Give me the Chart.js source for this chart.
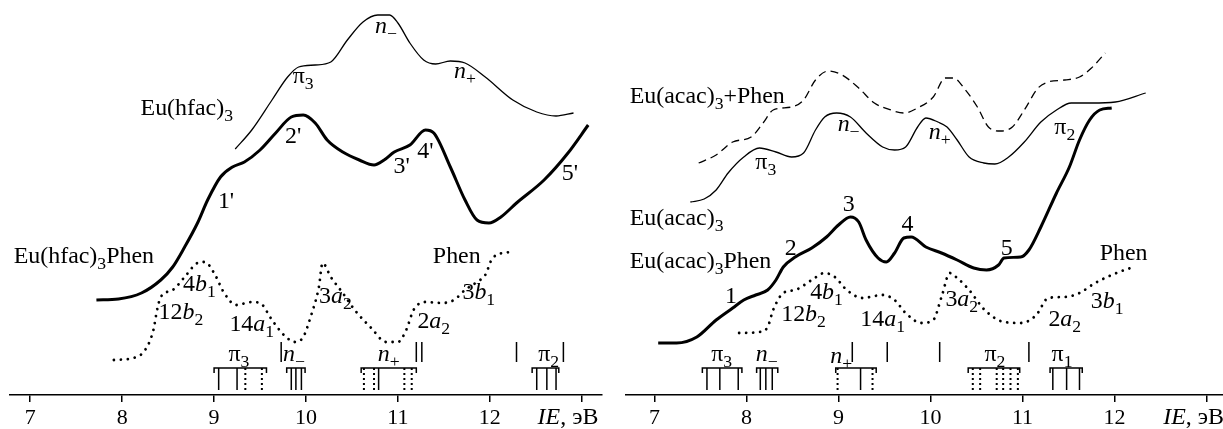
<!DOCTYPE html>
<html><head><meta charset="utf-8">
<script src="https://cdn.jsdelivr.net/npm/chart.js@4.4.0/dist/chart.umd.min.js"></script>
<style>
html,body{margin:0;padding:0;background:#fff;}
#wrap{position:relative;width:1223px;height:429px;overflow:hidden;background:#fff;}
canvas{position:absolute;top:0;}
</style></head><body>
<div id="wrap">
<canvas id="left" width="612" height="429" style="left:0"></canvas>
<canvas id="right" width="611" height="429" style="left:612px"></canvas>
</div>
<script>
// ---------- axis ----------
const tickValues = [7, 8, 9, 10, 11, 12, 13];
const tickLabels = ['7', '8', '9', '10', '11', '12', ''];

// ---------- left panel: Eu(hfac)3 ----------
const hfac = [[9.23,246],[9.41,265],[9.63,295],[9.80,318],[9.92,328],[10.10,330],[10.27,333],[10.45,355],[10.62,373],[10.78,380],[10.91,380],[11.00,372],[11.13,352],[11.28,335],[11.41,331],[11.57,334],[11.73,332],[11.95,318],[12.25,295],[12.51,283],[12.72,279],[12.91,282]];
const hfacPhen = [[7.72,95],[7.96,96],[8.21,102],[8.42,115],[8.55,128],[8.68,148],[8.82,172],[8.93,195],[9.07,218],[9.20,228],[9.33,233],[9.50,245],[9.67,262],[9.84,278],[9.97,280],[10.10,272],[10.23,255],[10.40,243],[10.58,235],[10.74,230],[10.85,235],[10.96,243],[11.13,250],[11.30,265],[11.39,262],[11.57,228],[11.73,195],[11.86,175],[11.99,172],[12.12,178],[12.29,192],[12.59,215],[12.85,242],[13.07,270]];
const phenLeft = [[7.91,35],[8.12,37],[8.25,45],[8.34,65],[8.38,85],[8.42,98],[8.55,105],[8.68,118],[8.82,132],[8.90,133],[9.00,122],[9.11,102],[9.24,90],[9.41,93],[9.50,92],[9.63,75],[9.76,60],[9.88,53],[9.97,58],[10.05,78],[10.14,108],[10.18,132],[10.27,118],[10.40,102],[10.53,85],[10.71,67],[10.87,53],[11.00,53],[11.09,65],[11.17,85],[11.30,93],[11.48,92],[11.61,95],[11.73,105],[11.86,113],[11.95,120],[12.03,137],[12.21,143]];
const leftBrkFrom = [9.00, 9.79, 10.60, 12.46];
const leftBrkTo   = [9.57, 9.99, 11.20, 12.75];
const leftSolid   = [9.05, 9.25, 9.84, 9.89, 9.95, 10.79, 12.51, 12.62, 12.72];
const leftDotted  = [9.34, 9.52, 10.63, 10.74, 11.07, 11.15];
const leftMarks   = [9.73, 11.20, 11.26, 12.29, 12.80];
const leftLabels = [
  ['Eu(hfac){3}', 8.20, 288, 'left'],
  ['*n*{−}', 10.87, 370], ['π{3}', 9.97, 320], ['*n*{+}', 11.73, 325],
  ["2'", 9.86, 260], ["1'", 9.13, 195], ["3'", 11.04, 230], ["4'", 11.30, 245], ["5'", 12.87, 223],
  ['Eu(hfac){3}Phen', 6.82, 140, 'left'],
  ['4*b*{1}', 8.84, 112], ['12*b*{2}', 8.64, 84], ['14*a*{1}', 9.41, 72], ['3*a*{2}', 10.32, 100],
  ['2*a*{2}', 11.39, 75], ['3*b*{1}', 11.88, 104], ['Phen', 11.64, 140],
  ['π{3}', 9.27, 42], ['*n*{−}', 9.87, 42], ['*n*{+}', 10.90, 42], ['π{2}', 12.64, 42],
  ['*IE*, эВ', 12.85, -21]
];

// ---------- right panel: Eu(acac)3 ----------
const acacPlusPhen = [[7.48,232],[7.67,240],[7.85,253],[8.05,258],[8.18,272],[8.29,285],[8.49,288],[8.62,295],[8.75,315],[8.89,324],[9.04,320],[9.22,307],[9.39,292],[9.57,285],[9.71,282],[9.86,287],[10.03,298],[10.16,317],[10.25,317],[10.38,305],[10.51,288],[10.63,268],[10.76,264],[10.89,268],[11.02,285],[11.17,307],[11.28,313],[11.46,315],[11.62,318],[11.75,327],[11.90,342]];
const acac = [[7.39,193],[7.54,196],[7.67,205],[7.80,222],[7.97,238],[8.14,247],[8.32,243],[8.49,238],[8.62,242],[8.75,265],[8.85,278],[8.98,282],[9.13,278],[9.30,262],[9.48,248],[9.61,245],[9.73,248],[9.86,268],[9.95,277],[10.08,273],[10.18,268],[10.29,255],[10.42,238],[10.58,232],[10.70,231],[10.85,238],[11.02,253],[11.20,273],[11.37,285],[11.53,292],[11.75,292],[12.01,293],[12.34,302]];
const acacPhen = [[7.04,52],[7.24,52],[7.46,58],[7.67,75],[7.85,87],[7.97,95],[8.10,100],[8.23,105],[8.32,115],[8.40,128],[8.53,138],[8.71,147],[8.87,158],[9.00,170],[9.13,178],[9.22,173],[9.30,155],[9.43,137],[9.52,133],[9.61,142],[9.71,157],[9.79,158],[9.95,148],[10.12,142],[10.29,135],[10.47,127],[10.61,125],[10.74,130],[10.80,137],[10.98,138],[11.07,145],[11.20,168],[11.37,202],[11.51,228],[11.62,255],[11.73,275],[11.84,285],[11.97,287]];
const phenRight = [[7.92,62],[8.14,63],[8.23,68],[8.29,85],[8.40,102],[8.53,105],[8.71,115],[8.85,122],[8.96,118],[9.09,105],[9.26,97],[9.48,100],[9.61,95],[9.73,82],[9.90,72],[10.03,75],[10.12,98],[10.21,122],[10.29,117],[10.42,105],[10.59,85],[10.80,73],[10.98,72],[11.15,80],[11.28,97],[11.46,98],[11.62,102],[11.79,112],[12.05,123],[12.21,128]];
const rightBrkFrom = [7.52, 8.11, 8.97, 10.41, 11.30];
const rightBrkTo   = [7.95, 8.34, 9.41, 10.97, 11.65];
const rightSolid   = [7.57, 7.71, 7.91, 8.15, 8.21, 8.28, 9.24, 11.33, 11.48, 11.62];
const rightDotted  = [8.99, 9.37, 10.46, 10.54, 10.72, 10.79, 10.87, 10.95];
const rightMarks   = [9.15, 9.53, 10.10, 11.07];
const rightLabels = [
  ['Eu(acac){3}+Phen', 6.73, 300, 'left'],
  ['Eu(acac){3}', 6.73, 178, 'left'],
  ['Eu(acac){3}Phen', 6.73, 135, 'left'],
  ['π{3}', 8.21, 234], ['*n*{−}', 9.11, 272], ['*n*{+}', 10.10, 264], ['π{2}', 11.46, 269],
  ['3', 9.11, 192], ['4', 9.75, 172], ['2', 8.48, 148], ['1', 7.83, 100], ['5', 10.83, 148],
  ['Phen', 12.10, 143],
  ['4*b*{1}', 8.87, 104], ['12*b*{2}', 8.62, 82], ['14*a*{1}', 9.48, 77], ['3*a*{2}', 10.34, 97],
  ['2*a*{2}', 11.46, 77], ['3*b*{1}', 11.92, 95],
  ['π{3}', 7.73, 42], ['*n*{−}', 8.22, 42], ['*n*{+}', 9.03, 40], ['π{2}', 10.70, 42], ['π{1}', 11.43, 42],
  ['*IE*, эВ', 12.86, -21]
];

// ---------- helpers ----------
const FONT = '"Liberation Serif", "Times New Roman", serif';
const FS = 23, SX = 1.04;
const STICK_LO = 5, STICK_HI = 27, HOOK = 22, MARK_LO = 33, MARK_HI = 53;

const pts = arr => arr.map(p => ({x: p[0], y: p[1]}));
function sticks(xs, lo, hi) {
  const d = [];
  xs.forEach(x => { d.push({x, y: lo}, {x, y: hi}, {x, y: null}); });
  return d;
}
function brackets(from, to) {
  const d = [];
  from.forEach((f, i) => {
    d.push({x: f, y: HOOK}, {x: f, y: STICK_HI}, {x: to[i], y: STICK_HI}, {x: to[i], y: HOOK}, {x: to[i], y: null});
  });
  return d;
}
function drawRich(ctx, str, x, yMid, align) {
  const segs = []; let it = false, sub = false, buf = '';
  const push = () => { if (buf) { segs.push({t: buf, it, sub}); buf = ''; } };
  for (const ch of str) {
    if (ch === '*') { push(); it = !it; }
    else if (ch === '{') { push(); sub = true; }
    else if (ch === '}') { push(); sub = false; }
    else buf += ch;
  }
  push();
  const font = s => (s.it ? 'italic ' : '') + (s.sub ? Math.round(FS * 0.72) : FS) + 'px ' + FONT;
  let w = 0;
  segs.forEach(s => { ctx.font = font(s); s.w = ctx.measureText(s.t).width * SX; w += s.w; });
  let cx = align === 'left' ? x : x - w / 2;
  const base = yMid + FS * 0.33;
  ctx.fillStyle = '#000';
  ctx.textBaseline = 'alphabetic';
  ctx.textAlign = 'left';
  segs.forEach(s => {
    ctx.font = font(s);
    ctx.save();
    ctx.translate(cx, base + (s.sub ? FS * 0.3 : 0));
    ctx.scale(SX, 1);
    ctx.fillText(s.t, 0, 0);
    ctx.restore();
    cx += s.w;
  });
}
function labelPlugin(list) {
  return {
    id: 'richLabels',
    afterDatasetsDraw(chart) {
      const ctx = chart.ctx, xs = chart.scales.x, ys = chart.scales.y;
      ctx.save();
      list.forEach(l => drawRich(ctx, l[0], xs.getPixelForValue(l[1]), ys.getPixelForValue(l[2]), l[3]));
      ctx.restore();
    }
  };
}

function makeChart(id, min, max, padL, padR, curves, solid, dotted, bf, bt, marks, labels) {
  const base = {pointRadius: 0, borderColor: '#000', fill: false, tension: 0, spanGaps: false};
  const ds = curves.map(c => Object.assign({}, base, {
    data: pts(c.data), borderWidth: c.w, borderDash: c.dash || [],
    borderCapStyle: c.cap || 'butt', cubicInterpolationMode: 'monotone'
  }));
  ds.push(Object.assign({}, base, {data: sticks(solid, STICK_LO, STICK_HI), borderWidth: 1.5}));
  ds.push(Object.assign({}, base, {data: sticks(dotted, STICK_LO, STICK_HI), borderWidth: 2, borderDash: [2, 3]}));
  ds.push(Object.assign({}, base, {data: brackets(bf, bt), borderWidth: 1.5}));
  ds.push(Object.assign({}, base, {data: sticks(marks, MARK_LO, MARK_HI), borderWidth: 1.5}));
  return new Chart(document.getElementById(id), {
    type: 'line',
    data: {datasets: ds},
    options: {
      responsive: false, animation: false, devicePixelRatio: 1,
      layout: {padding: {left: padL, right: padR, top: 0, bottom: 0}},
      plugins: {legend: {display: false}, tooltip: {enabled: false}},
      scales: {
        x: {
          type: 'linear', min, max,
          afterBuildTicks: s => { s.ticks = tickValues.map(v => ({value: v})); },
          afterFit: s => { s.height = 34; s.paddingLeft = 0; s.paddingRight = 0; },
          ticks: {
            callback: v => tickLabels[tickValues.indexOf(v)] ?? '',
            color: '#000', padding: 3, maxRotation: 0, autoSkip: false,
            font: {family: FONT, size: 22}
          },
          grid: {drawOnChartArea: false, drawTicks: true, tickLength: 7, color: '#000', lineWidth: 1.5},
          border: {display: true, color: '#000', width: 1.5}
        },
        y: {type: 'linear', min: 0, max: 395, display: false}
      }
    },
    plugins: [labelPlugin(labels)]
  });
}

makeChart('left', 6.78, 13.22, 10, 10,
  [{data: hfac, w: 1.3}, {data: hfacPhen, w: 3}, {data: phenLeft, w: 2.8, dash: [0.01, 7], cap: 'round'}],
  leftSolid, leftDotted, leftBrkFrom, leftBrkTo, leftMarks, leftLabels);

makeChart('right', 6.69, 13.18, 14, 0,
  [{data: acacPlusPhen, w: 1.3, dash: [8, 5]}, {data: acac, w: 1.3}, {data: acacPhen, w: 3},
   {data: phenRight, w: 2.8, dash: [0.01, 7], cap: 'round'}],
  rightSolid, rightDotted, rightBrkFrom, rightBrkTo, rightMarks, rightLabels);
</script>
</body></html>
